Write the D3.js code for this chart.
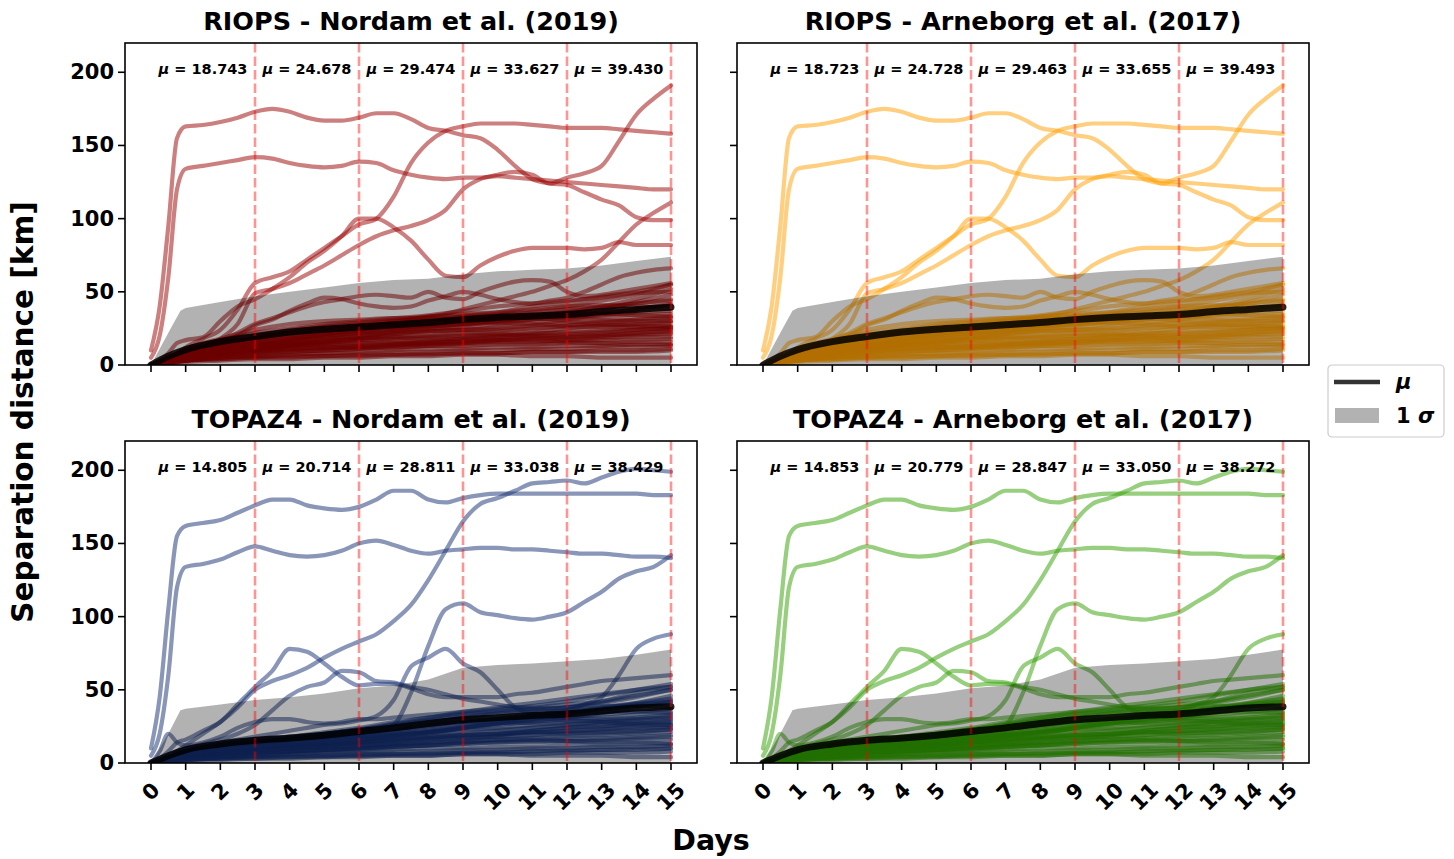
<!DOCTYPE html>
<html><head><meta charset="utf-8">
<script src="https://cdn.jsdelivr.net/npm/d3@7"></script>
<style>
body{margin:0;background:#fff}
svg{display:block}
text{font-family:"DejaVu Sans",sans-serif;font-weight:bold;fill:#000}
</style>
</head><body>
<svg id="chart" width="1454" height="859"></svg>
<script>
// ---- time grids (days since release) ----
const dayFine = [0,0.25,0.5,0.75,1,1.5,2,2.5,3,3.5,4,4.5,5,5.5,6,6.5,7,7.5,8,8.5,9,9.5,10,10.5,11,11.5,12,12.5,13,13.5,14,14.5,15];
const dayCoarse = [0,0.5,1,2,3,4,5,6,7,8,9,10,11,12,13,14,15];
const bandDays = [0,0.5,0.85,1,2,3,4,5,6,7,8,9,10,11,12,13,14,15];
const dayTicks = [0,1,2,3,4,5,6,7,8,9,10,11,12,13,14,15];
const kmTicks = [0,50,100,150,200];
const splitDays = [3,6,9,12,15];

// ---- RIOPS: far-separating pairs (km, on dayFine) ----
const riopsR1 = [10,40,95,155,163,164,166,169,173,175,173,169,167,167,169,172,172,168,162,160,157,155,147,136,127,124,123,118,113,109,101,99,99];
const riopsR2 = [5,20,60,120,134,136,138,140,142,141,138,136,135,136,139,138,133,130,128,127,128,128,129,128,127,126,125,124,123,122,121,120,120];
const riopsR3 = [0,2,5,8,12,18,24,38,56,60,64,72,80,88,96,100,115,138,152,160,163,165,165,165,164,163,162,162,162,161,160,159,158];
const riopsR4 = [0,1,3,5,8,12,18,28,49,52,56,62,68,75,82,88,92,95,99,106,120,127,130,132,130,124,128,131,136,153,171,182,191];
const riopsR5 = [0,3,8,15,17,19,30,40,45,52,60,70,78,88,100,100,94,85,72,61,60,68,74,78,80,80,80,79,80,84,82,82,82];
const riopsR6 = [0,1,2,4,5,7,9,11,13,15,17,19,21,23,25,27,29,31,33,35,38,41,44,47,50,54,58,64,72,84,96,104,111];
const riopsR7 = [0,1,3,6,8,12,15,20,27,31,37,42,46,45,42,40,39,40,44,47,50,48,45,43,42,44,46,50,55,60,63,65,66];
const riopsR8 = [0,2,4,7,9,12,16,22,28,32,36,40,43,45,47,48,47,46,50,46,45,50,54,57,58,57,50,47,48,50,52,54,56];
const riopsFar = [riopsR1,riopsR2,riopsR3,riopsR4,riopsR5,riopsR6,riopsR7,riopsR8];

// ---- RIOPS: bulk of pairs (km, on dayCoarse) ----
const riopsNear = [
  [0,4,8,12,15,17,19,22,24,25,27,30,33,36,40,45,52],
  [0,3,6,10,13,16,18,20,21,23,24,26,28,31,35,38,42],
  [0,5,10,16,20,22,25,27,28,30,33,35,37,40,44,48,55],
  [0,2,5,8,10,12,13,14,15,15,16,17,18,18,19,20,21],
  [0,3,7,11,14,17,21,24,26,27,28,29,31,33,34,36,37],
  [0,2,4,6,8,9,10,11,12,13,13,14,14,15,15,16,16],
  [0,4,9,14,18,20,22,23,25,27,29,32,34,33,31,30,30],
  [0,3,5,8,11,14,16,19,23,27,30,32,34,37,39,42,45],
  [0,2,3,5,6,7,8,8,9,9,10,10,11,11,12,12,13],
  [0,5,11,18,24,28,30,31,32,32,33,34,36,38,40,42,44],
  [0,3,6,9,12,14,17,18,19,20,22,21,20,19,20,22,24],
  [0,2,4,7,9,11,12,13,14,16,18,20,22,25,27,28,30],
  [0,4,7,12,16,19,21,24,27,30,32,33,32,30,28,27,26],
  [0,1,3,4,5,6,6,7,7,8,8,8,9,9,9,9,10],
  [0,3,6,10,13,15,16,18,21,24,26,28,31,35,38,43,48],
  [0,2,5,9,12,13,14,15,15,16,16,17,17,16,15,14,14],
  [0,4,8,13,17,20,23,26,28,29,30,29,28,27,27,28,29],
  [0,2,4,7,10,13,16,18,19,20,21,23,25,27,29,31,33],
  [0,3,5,8,10,11,12,12,13,14,15,17,18,19,20,21,22],
  [0,5,9,15,19,22,24,27,30,33,35,36,38,40,41,40,39],
  [0,1,2,3,4,4,5,5,6,6,7,7,6,6,5,5,5],
  [0,3,6,11,14,16,18,20,22,23,24,24,25,26,26,26,27],
  [0,4,8,14,19,24,27,29,31,33,34,36,40,43,47,50,55],
  [0,2,4,6,8,10,11,12,14,15,17,19,20,21,22,24,25],
  [0,3,5,9,12,14,15,17,18,18,19,20,21,23,24,25,26],
  [0,2,3,5,7,9,10,11,13,14,15,16,16,17,18,19,19],
  [0,4,9,13,17,19,21,23,25,26,28,31,33,35,35,34,33],
  [0,2,5,8,11,13,15,17,18,19,20,21,22,22,23,24,25],
  [0,3,7,12,17,22,26,28,30,31,31,32,33,34,36,38,41],
  [0,2,4,7,9,10,11,12,12,13,14,15,15,16,17,17,18],
  [0,3,6,9,11,13,14,15,16,17,18,18,19,20,21,22,23],
  [0,5,10,17,22,25,28,30,32,34,37,40,42,44,46,49,50],
  [0,2,3,4,5,5,6,6,7,7,8,8,9,9,10,10,11],
  [0,4,8,12,14,16,19,21,22,23,24,25,27,29,30,31,32],
  [0,3,6,11,15,18,20,22,24,26,28,30,31,32,33,34,35],
  [0,1,3,5,6,7,8,9,10,11,11,12,12,13,13,14,14]
];
const riopsMean = [0,6,10.5,16,19.5,22.5,24.5,26,27.5,29,31,32.5,33.5,34.5,36.5,38,39.5];
const riopsSigmaHi = [0,22,37,39,43,47,50,53,56,58,59,62,64,65,66,68,71,74];

// ---- TOPAZ4: far-separating pairs (km, on dayFine) ----
const topazT1 = [10,45,105,155,162,164,166,171,176,180,180,176,174,173,175,180,186,186,180,178,181,183,184,184,184,184,184,184,184,184,184,183,183];
const topazT2 = [5,20,60,120,134,136,139,144,148,145,142,141,142,145,150,152,149,145,143,145,146,147,147,146,146,145,144,143,143,142,141,141,140];
const topazT3 = [0,1,4,8,12,20,28,38,50,56,60,65,72,78,83,88,97,108,125,145,165,177,181,186,191,192,193,191,195,199,201,200,199];
const topazT4 = [0,2,4,6,8,10,12,13,14,15,16,17,18,19,21,22,26,48,80,105,109,103,101,99,98,100,103,110,117,126,131,134,142];
const topazT5 = [0,3,8,14,16,22,28,40,52,63,78,76,68,59,53,54,54,51,47,45,45,45,45,47,48,50,52,54,56,57,58,59,60];
const topazT6 = [0,2,5,8,10,13,16,20,26,36,46,52,55,63,62,56,55,52,50,47,44,42,40,38,37,37,38,40,42,45,48,50,52];
const topazT7 = [0,1,3,6,8,11,14,16,18,20,22,24,26,27,29,32,43,66,72,78,68,62,50,38,34,33,34,35,37,38,40,41,42];
const topazT8 = [0,1,3,4,6,8,9,10,11,12,13,14,15,16,17,18,19,20,21,22,24,26,28,30,32,34,36,40,45,60,78,85,88];
const topazT9 = [0,8,20,14,12,14,18,24,28,30,30,28,27,28,30,30,31,32,33,34,35,36,37,38,38,39,40,41,42,44,46,48,50];
const topazFar = [topazT1,topazT2,topazT3,topazT4,topazT5,topazT6,topazT7,topazT8,topazT9];

// ---- TOPAZ4: bulk of pairs (km, on dayCoarse) ----
const topazNear = [
  [0,3,6,9,11,12,14,16,19,22,25,27,29,31,34,38,42],
  [0,2,5,8,10,11,12,13,15,17,19,20,22,24,25,27,28],
  [0,4,8,12,14,16,18,20,23,27,31,34,36,38,41,45,50],
  [0,2,4,6,7,8,9,10,11,12,13,14,14,15,15,16,16],
  [0,3,6,9,12,14,16,18,20,22,25,27,29,31,33,35,37],
  [0,1,3,4,5,6,7,7,8,8,9,9,10,10,11,11,12],
  [0,3,7,11,14,15,16,18,20,23,27,30,32,31,30,31,33],
  [0,2,4,7,9,10,12,14,17,20,24,27,30,34,38,41,44],
  [0,1,2,3,4,5,5,6,6,7,7,8,8,9,9,10,10],
  [0,4,8,13,16,18,20,23,26,29,32,34,35,36,38,40,43],
  [0,2,5,8,10,12,13,14,15,17,19,20,21,20,20,21,23],
  [0,2,3,5,7,8,9,10,12,14,16,19,22,24,26,27,29],
  [0,3,6,10,13,15,17,19,22,25,28,30,31,29,28,27,27],
  [0,1,2,3,3,4,4,5,5,5,6,6,6,7,7,7,8],
  [0,2,5,8,10,12,13,15,18,21,24,27,30,33,37,41,46],
  [0,2,4,7,9,10,11,12,13,14,15,16,16,15,14,14,13],
  [0,3,6,10,13,15,17,20,23,26,28,28,27,27,28,29,30],
  [0,2,3,6,8,10,12,14,16,18,20,22,24,26,28,30,32],
  [0,2,4,6,8,9,10,11,12,13,14,16,17,18,19,20,21],
  [0,4,8,12,15,17,19,22,26,30,33,35,37,38,39,39,38],
  [0,1,1,2,3,3,4,4,5,5,6,6,5,5,5,4,4],
  [0,2,5,8,11,12,14,16,18,20,22,23,24,25,25,26,26],
  [0,3,7,11,14,17,20,23,27,31,34,36,39,42,46,50,54],
  [0,2,3,5,6,8,9,11,13,15,17,18,19,21,22,23,24],
  [0,2,4,7,9,11,12,14,16,17,18,19,21,22,23,25,26],
  [0,1,3,4,6,7,8,9,11,12,14,15,16,17,17,18,19],
  [0,3,7,10,13,15,17,19,22,25,28,30,32,34,35,35,34],
  [0,2,4,6,8,10,12,14,16,18,19,20,21,22,23,24,25],
  [0,3,6,9,13,16,19,22,25,28,30,31,33,35,37,39,41],
  [0,1,3,5,7,8,9,10,11,12,13,14,15,15,16,17,18],
  [0,2,5,7,9,10,11,12,14,16,17,18,19,20,21,22,23],
  [0,4,8,13,16,18,21,24,28,31,35,38,41,44,47,50,52],
  [0,1,2,3,4,4,5,5,6,6,7,7,8,8,9,9,10],
  [0,3,6,9,11,12,14,16,19,21,23,24,26,28,29,30,31],
  [0,2,5,8,11,13,15,17,19,21,24,26,28,30,31,33,35],
  [0,1,2,4,5,6,7,8,9,10,10,11,11,12,12,13,13]
];
const topazMean = [0,5,9,13,15.5,17,19,21.5,24,27,29.5,31,32.5,33.5,35.5,37.5,38.5];
const topazSigmaHi = [0,20,36,37,40,43,45,47.5,51,53,57,65,67,68,69.5,71,74,77.5];

// ---- interval means printed in each panel ----
const muRiopsNordam = [18.743,24.678,29.474,33.627,39.430];
const muRiopsArneborg = [18.723,24.728,29.463,33.655,39.493];
const muTopazNordam = [14.805,20.714,28.811,33.038,38.429];
const muTopazArneborg = [14.853,20.779,28.847,33.050,38.272];

const panels = [
  {title:"RIOPS - Nordam et al. (2019)", color:"#990000", far:riopsFar, near:riopsNear, mean:riopsMean, sigma:riopsSigmaHi, mu:muRiopsNordam, col:0, row:0},
  {title:"RIOPS - Arneborg et al. (2017)", color:"#ffa000", far:riopsFar, near:riopsNear, mean:riopsMean, sigma:riopsSigmaHi, mu:muRiopsArneborg, col:1, row:0},
  {title:"TOPAZ4 - Nordam et al. (2019)", color:"#142d70", far:topazFar, near:topazNear, mean:topazMean, sigma:topazSigmaHi, mu:muTopazNordam, col:0, row:1},
  {title:"TOPAZ4 - Arneborg et al. (2017)", color:"#30a000", far:topazFar, near:topazNear, mean:topazMean, sigma:topazSigmaHi, mu:muTopazArneborg, col:1, row:1}
];

// ---- layout ----
const svg = d3.select("#chart");
const colX = [125, 737];
const rowY = [43, 441];
const W = 572, H = 322;

const x = d3.scaleLinear().domain([-0.75, 15.75]).range([0, W]);
const y = d3.scaleLinear().domain([0, 220]).range([H, 0]);

const lineOn = days => d3.line().x((v,i)=>x(days[i])).y(v=>y(v)).curve(d3.curveMonotoneX);

panels.forEach((p, k) => {
  const g = svg.append("g").attr("transform", `translate(${colX[p.col]},${rowY[p.row]})`);
  g.append("clipPath").attr("id", "clip"+k).append("rect").attr("width", W).attr("height", H);
  const body = g.append("g").attr("clip-path", `url(#clip${k})`);

  // individual pair separations
  const trajStyle = sel => sel.attr("fill","none").attr("stroke", p.color)
      .attr("stroke-opacity", 0.5).attr("stroke-width", 4.2)
      .attr("stroke-linejoin","round").attr("stroke-linecap","round");
  body.selectAll(".near").data(p.near).join("path").attr("class","near")
      .attr("d", lineOn(dayCoarse)).call(trajStyle);
  body.selectAll(".far").data(p.far).join("path").attr("class","far")
      .attr("d", lineOn(dayFine)).call(trajStyle);

  // 1 sigma envelope
  const area = d3.area().x((v,i)=>x(bandDays[i])).y0(y(0)).y1(v=>y(v));
  body.append("path").datum(p.sigma).attr("d", area).attr("fill","#000").attr("fill-opacity",0.3);

  // ensemble mean
  body.append("path").datum(p.mean).attr("d", lineOn(dayCoarse))
      .attr("fill","none").attr("stroke","#000").attr("stroke-opacity",0.85)
      .attr("stroke-width",7).attr("stroke-linecap","round");

  // 3-day interval markers
  body.selectAll(".split").data(splitDays).join("line").attr("class","split")
      .attr("x1", d=>x(d)).attr("x2", d=>x(d)).attr("y1", 0).attr("y2", H)
      .attr("stroke","#ff0000").attr("stroke-opacity",0.42).attr("stroke-width",2.6)
      .attr("stroke-dasharray","9.5,4");

  // interval means
  const mu = g.selectAll(".mu").data(p.mu).join("text").attr("class","mu")
      .attr("x", (d,i)=>x(splitDays[i]-1.5)).attr("y", y(202))
      .attr("text-anchor","middle").attr("dominant-baseline","central")
      .style("font-size","14.5px");
  mu.append("tspan").attr("font-style","italic").text("\u03bc");
  mu.append("tspan").text(d=>" = " + d.toFixed(3));

  // frame
  g.append("rect").attr("width", W).attr("height", H)
      .attr("fill","none").attr("stroke","#000").attr("stroke-width",1.6);

  // y ticks
  const yt = g.selectAll(".yt").data(kmTicks).join("g").attr("class","yt")
      .attr("transform", d=>`translate(0,${y(d)})`);
  yt.append("line").attr("x1",-7).attr("x2",0).attr("stroke","#000").attr("stroke-width",1.6);
  if (p.col === 0) {
    yt.append("text").attr("x",-11).attr("text-anchor","end").attr("dominant-baseline","central")
      .style("font-size","21px").text(d=>d);
  }

  // x ticks
  const xt = g.selectAll(".xt").data(dayTicks).join("g").attr("class","xt")
      .attr("transform", d=>`translate(${x(d)},${H})`);
  xt.append("line").attr("y1",0).attr("y2",7).attr("stroke","#000").attr("stroke-width",1.6);
  if (p.row === 1) {
    xt.append("text").attr("text-anchor","middle").attr("dominant-baseline","central")
      .style("font-size","21px").text(d=>d)
      .each(function(){
        const w = this.getComputedTextLength();
        const hgt = 24;
        const c = 15 + (w + hgt) * 0.7071 / 2;
        d3.select(this).attr("transform", `translate(0,${c}) rotate(-45)`);
      });
  }

  // panel title
  g.append("text").attr("x", W/2).attr("y", -13).attr("text-anchor","middle")
      .style("font-size","25.5px").text(p.title);
});

// shared axis labels
svg.append("text").attr("transform","translate(33,412) rotate(-90)").attr("text-anchor","middle")
   .style("font-size","29.5px").text("Separation distance [km]");
svg.append("text").attr("x",711).attr("y",850).attr("text-anchor","middle")
   .style("font-size","28.5px").text("Days");

// legend
const lg = svg.append("g").attr("transform","translate(1328,365)");
lg.append("rect").attr("width",116).attr("height",72).attr("rx",4)
  .attr("fill","#fff").attr("fill-opacity",0.8).attr("stroke","#cccccc").attr("stroke-width",1.2);
lg.append("line").attr("x1",6).attr("x2",52).attr("y1",17).attr("y2",17)
  .attr("stroke","#000").attr("stroke-opacity",0.8).attr("stroke-width",4.5);
lg.append("text").attr("x",68).attr("y",17).attr("dominant-baseline","central")
  .attr("font-style","italic").style("font-size","21px").text("\u03bc");
lg.append("rect").attr("x",7).attr("y",43).attr("width",44).attr("height",15)
  .attr("fill","#000").attr("fill-opacity",0.3);
const sg = lg.append("text").attr("x",68).attr("y",51).attr("dominant-baseline","central").style("font-size","21px");
sg.append("tspan").text("1 ");
sg.append("tspan").attr("font-style","italic").text("\u03c3");
</script>
</body></html>
